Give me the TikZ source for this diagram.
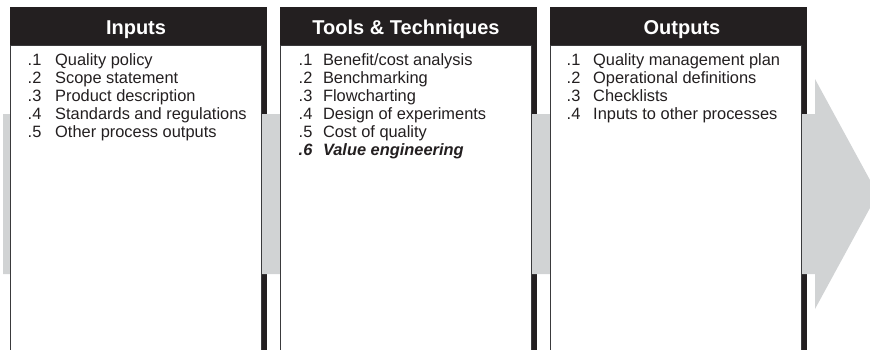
\documentclass[tikz,border=0pt]{standalone}
\usepackage{fontspec}
\setmainfont{Liberation Sans}
\definecolor{hdr}{HTML}{231F20}
\definecolor{arr}{HTML}{D1D3D4}
\definecolor{edge}{HTML}{3A3A3C}
\tikzset{
  shadowbox/.style={anchor=north west, fill=hdr, inner sep=0pt, minimum width=257pt, minimum height=360pt},
  whitebox/.style={anchor=north west, fill=white, draw=edge, line width=0.8pt, inner sep=0pt, minimum width=251pt, minimum height=320pt},
  hdrtext/.style={anchor=base, text=white, font=\fontsize{20}{20}\selectfont\bfseries, inner sep=0pt},
  item/.style={anchor=base west, text=hdr, font=\fontsize{16.4}{18}\selectfont, inner sep=0pt},
  itemb/.style={item, font=\fontsize{16.4}{18}\selectfont\bfseries\itshape}
}
\begin{document}
\begin{tikzpicture}[x=1pt,y=-1pt]
\useasboundingbox (0,0) rectangle (870,349);
\clip (0,0) rectangle (870,349);
% shadows / headers
\node[shadowbox] (sh1) at (10,7) {};
\node[shadowbox] (sh2) at (280,7) {};
\node[shadowbox] (sh3) at (550,7) {};
% big grey process arrow
\fill[arr] (3,114) -- (815,114) -- (815,79) -- (877.6,194) -- (815,309) -- (815,274) -- (3,274) -- cycle;
% white boxes
\node[whitebox] (b1) at (10,45) {};
\node[whitebox] (b2) at (280,45) {};
\node[whitebox] (b3) at (550,45) {};
% headers
\node[hdrtext] (h1) at (136,34.5) {Inputs};
\node[hdrtext] (h2) at (406,34.5) {Tools \& Techniques};
\node[hdrtext] (h3) at (682,34.5) {Outputs};
% inputs
\foreach \n/\t [count=\i] in {.1/Quality policy, .2/Scope statement, .3/Product description, .4/Standards and regulations, .5/Other process outputs} {
  \node[item] (in\i) at (27.5,{65+18*(\i-1)}) {\n};
  \node[item] (it\i) at (55,{65+18*(\i-1)}) {\t};
}
% tools
\node[item] (tn1) at (298.5,65) {.1};
\node[item] (tt1) at (322.8,65) {Benefit/cost analysis};
\foreach \n/\t [count=\i from 2] in {.2/Benchmarking, .3/Flowcharting, .4/Design of experiments, .5/Cost of quality} {
  \node[item] (tn\i) at (298.5,{65+18*(\i-1)}) {\n};
  \node[item] (tt\i) at (322.8,{65+18*(\i-1)}) {\t};
}
\node[itemb] (tn6) at (298.5,155) {.6};
\node[itemb] (tt6) at (322.8,155) {Value engineering};
% outputs
\foreach \n/\t [count=\i] in {.1/Quality management plan, .2/Operational definitions, .3/Checklists, .4/Inputs to other processes} {
  \node[item] (on\i) at (566.5,{65+18*(\i-1)}) {\n};
  \node[item] (ot\i) at (593,{65+18*(\i-1)}) {\t};
}
\end{tikzpicture}
\end{document}
